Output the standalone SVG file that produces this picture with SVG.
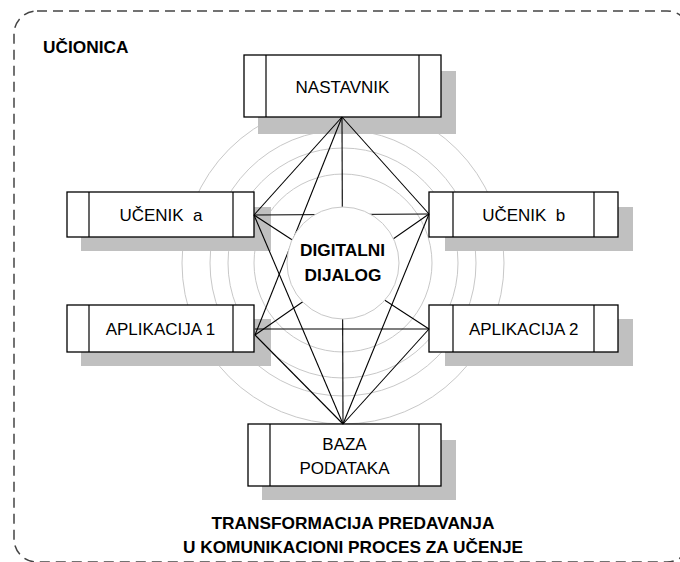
<svg xmlns="http://www.w3.org/2000/svg" width="680" height="562" viewBox="0 0 680 562">
<style>
.frame{fill:none;stroke:#444;stroke-width:1.5;stroke-dasharray:10 6}
.ring{fill:none;stroke:#c8c8c8;stroke-width:1}
.core{fill:#fff;stroke:#c8c8c8;stroke-width:1}
.shadow{fill:#c0c0c0;stroke:none}
.box{fill:#fff;stroke:#000;stroke-width:1.3}
.div{stroke:#000;stroke-width:1.2}
.edge{stroke:#000;stroke-width:1.1;fill:none}
.lbl{font-family:"Liberation Sans",Arial,sans-serif;font-size:17px;fill:#000;text-anchor:middle}
.bold{font-family:"Liberation Sans",Arial,sans-serif;font-size:17.3px;font-weight:bold;fill:#000;text-anchor:middle}
</style>
<rect fill="#fff" x="0" y="0" width="680" height="562"/>
<rect id="frame" class="frame" x="14" y="11" width="676" height="551" rx="23" ry="23"/>
<text id="ucionica" class="bold" x="43" y="53" style="text-anchor:start">UČIONICA</text>
<g id="rings">
<circle class="ring" cx="343" cy="263" r="161"/>
<circle class="ring" cx="343" cy="263" r="133"/>
<circle class="ring" cx="343" cy="263" r="115"/>
<circle class="ring" cx="343" cy="263" r="89"/>
</g>
<g id="nastavnik">
<rect class="shadow" x="258" y="71" width="198" height="63"/>
<rect class="box" x="244" y="55" width="197" height="62"/>
<line class="div" x1="266" y1="55" x2="266" y2="117"/>
<line class="div" x1="419" y1="55" x2="419" y2="117"/>
<text class="lbl" x="342.5" y="92.5">NASTAVNIK</text>
</g>
<g id="ucenik-a">
<rect class="shadow" x="81" y="207" width="190" height="44"/>
<rect class="box" x="67" y="192" width="187" height="45"/>
<line class="div" x1="89" y1="192" x2="89" y2="237"/>
<line class="div" x1="233" y1="192" x2="233" y2="237"/>
<text class="lbl" x="161" y="221">UČENIK&#160; a</text>
</g>
<g id="aplikacija-1">
<rect class="shadow" x="81" y="319" width="190" height="47"/>
<rect class="box" x="67" y="305" width="187" height="47"/>
<line class="div" x1="89" y1="305" x2="89" y2="352"/>
<line class="div" x1="233" y1="305" x2="233" y2="352"/>
<text class="lbl" x="160.5" y="335">APLIKACIJA 1</text>
</g>
<g id="ucenik-b">
<rect class="shadow" x="445" y="207" width="188" height="44"/>
<rect class="box" x="429" y="192" width="189" height="45"/>
<line class="div" x1="453" y1="192" x2="453" y2="237"/>
<line class="div" x1="594" y1="192" x2="594" y2="237"/>
<text class="lbl" x="523.7" y="221">UČENIK&#160; b</text>
</g>
<g id="aplikacija-2">
<rect class="shadow" x="445" y="319" width="188" height="47"/>
<rect class="box" x="429" y="305" width="189" height="47"/>
<line class="div" x1="453" y1="305" x2="453" y2="352"/>
<line class="div" x1="594" y1="305" x2="594" y2="352"/>
<text class="lbl" x="523.7" y="334.5">APLIKACIJA 2</text>
</g>
<g id="baza-podataka">
<rect class="shadow" x="262" y="440" width="194" height="60"/>
<rect class="box" x="248" y="424" width="193" height="62"/>
<line class="div" x1="270" y1="424" x2="270" y2="486"/>
<line class="div" x1="419" y1="424" x2="419" y2="486"/>
<text class="lbl" x="344.5" y="449.5">BAZA</text>
<text class="lbl" x="344.5" y="473.5">PODATAKA</text>
</g>
<g id="connectors">
<line class="edge" x1="342" y1="117" x2="254" y2="215"/>
<line class="edge" x1="342" y1="117" x2="255" y2="335"/>
<line class="edge" x1="342" y1="117" x2="343" y2="424"/>
<line class="edge" x1="342" y1="117" x2="429" y2="214"/>
<line class="edge" x1="254" y1="215" x2="429" y2="214"/>
<line class="edge" x1="254" y1="215" x2="429" y2="329"/>
<line class="edge" x1="254" y1="215" x2="343" y2="424"/>
<line class="edge" x1="429" y1="214" x2="255" y2="335"/>
<line class="edge" x1="429" y1="214" x2="343" y2="424"/>
<line class="edge" x1="255" y1="329" x2="429" y2="329"/>
<line class="edge" x1="255" y1="335" x2="343" y2="424"/>
<line class="edge" x1="429" y1="329" x2="343" y2="424"/>
</g>
<g id="digitalni-dijalog">
<circle class="core" cx="343" cy="263" r="56"/>
<text class="bold" x="342.5" y="255.5">DIGITALNI</text>
<text class="bold" x="343" y="281">DIJALOG</text>
</g>
<g id="caption">
<text class="bold" x="353" y="528.5">TRANSFORMACIJA PREDAVANJA</text>
<text class="bold" x="353" y="553">U KOMUNIKACIONI PROCES ZA UČENJE</text>
</g>
</svg>
